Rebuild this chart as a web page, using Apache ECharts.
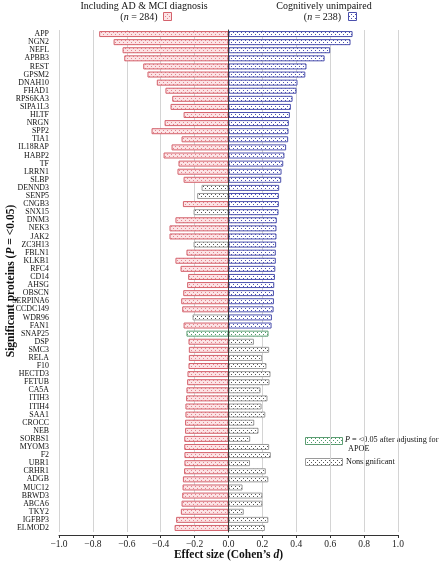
<!DOCTYPE html>
<html><head><meta charset="utf-8">
<script src="https://cdn.jsdelivr.net/npm/echarts@6/dist/echarts.min.js"></script>
<style>html,body{margin:0;padding:0;background:#fff}#c{width:440px;height:564px}</style>
</head><body><div id="c"></div>
<script>
const categories = ['APP','NGN2','NEFL','APBB3','REST','GPSM2','DNAH10','FHAD1','RPS6KA3','SIPA1L3','HLTF','NRGN','SPP2','TIA1','IL18RAP','HABP2','TF','LRRN1','SLBP','DENND3','SENP5','CNGB3','SNX15','DNM3','NEK3','JAK2','ZC3H13','FBLN1','KLKB1','RFC4','CD14','AHSG','OBSCN','SERPINA6','CCDC149','WDR96','FAN1','SNAP25','DSP','SMC3','RELA','F10','HECTD3','FETUB','CA5A','ITIH3','ITIH4','SAA1','CROCC','NEB','SORBS1','MYOM3','F2','UBR1','CRHR1','ADGB','MUC12','BRWD3','ABCA6','TKY2','IGFBP3','ELMOD2'];

// Including AD & MCI diagnosis (n = 284)
const leftValues = [-0.763,-0.678,-0.625,-0.615,-0.503,-0.478,-0.423,-0.372,-0.332,-0.342,-0.265,-0.377,-0.454,-0.277,-0.336,-0.383,-0.295,-0.301,-0.265,-0.159,-0.185,-0.269,-0.206,-0.313,-0.348,-0.348,-0.206,-0.248,-0.313,-0.283,-0.238,-0.244,-0.267,-0.279,-0.273,-0.212,-0.265,-0.248,-0.236,-0.234,-0.234,-0.236,-0.242,-0.244,-0.248,-0.250,-0.254,-0.254,-0.256,-0.256,-0.261,-0.261,-0.260,-0.260,-0.262,-0.269,-0.271,-0.273,-0.277,-0.281,-0.309,-0.318];

// Cognitively unimpaired (n = 238)
const rightValues = [0.732,0.720,0.600,0.567,0.460,0.453,0.407,0.401,0.378,0.368,0.362,0.356,0.354,0.352,0.340,0.330,0.323,0.313,0.311,0.299,0.297,0.297,0.295,0.285,0.283,0.283,0.281,0.279,0.279,0.276,0.274,0.270,0.268,0.268,0.266,0.256,0.254,0.236,0.150,0.240,0.199,0.224,0.248,0.242,0.189,0.230,0.195,0.217,0.152,0.177,0.128,0.240,0.250,0.127,0.220,0.235,0.083,0.200,0.200,0.090,0.235,0.215];

// significance status: 'sig' = P<0.05, 'apoe' = P<0.05 after adjusting for APOE, 'ns' = nonsignificant
const leftStatus = categories.map(c => (['DENND3','SENP5','SNX15','ZC3H13','WDR96'].includes(c) ? 'ns' : (c === 'SNAP25' ? 'apoe' : 'sig')));
const rightStatus = categories.map((c, i) => (i < 37 ? 'sig' : (c === 'SNAP25' ? 'apoe' : 'ns')));

const xTicks = [-1.0,-0.8,-0.6,-0.4,-0.2,0.0,0.2,0.4,0.6,0.8,1.0];

function pat(bg, dot) {
  const c = document.createElement('canvas');
  c.width = 4; c.height = 4;
  const g = c.getContext('2d');
  g.fillStyle = bg; g.fillRect(0, 0, 4, 4);
  g.fillStyle = dot; g.fillRect(1, 0, 1, 1); g.fillRect(3, 2, 1, 1);
  return { image: c, repeat: 'repeat' };
}
const styles = {
  red:  { color: pat('#fce4e6', '#e0858d'), borderColor: '#d4626c', borderWidth: 1 },
  blue: { color: pat('#ffffff', '#4b50ad'), borderColor: '#4b50ad', borderWidth: 1 },
  ns:   { color: pat('#ffffff', '#555555'), borderColor: '#9a9a9a', borderWidth: 1 },
  apoe: { color: pat('#ffffff', '#4f9a69'), borderColor: '#5c9e73', borderWidth: 1 }
};
function styleFor(status, side) {
  if (status === 'ns') return styles.ns;
  if (status === 'apoe') return styles.apoe;
  return side === 'left' ? styles.red : styles.blue;
}

const serif = '"Liberation Serif", "DejaVu Serif", serif';
const chart = echarts.init(document.getElementById('c'), null, { renderer: 'canvas' });
chart.setOption({
  animation: false,
  grid: { left: 59, right: 42, top: 30, bottom: 32, containLabel: false, outerBoundsMode: 'none' },
  xAxis: {
    type: 'value', min: xTicks[0], max: xTicks[xTicks.length - 1], interval: 0.2, offset: 3,
    axisLine: { show: true, lineStyle: { color: '#333', width: 1 } },
    axisTick: { show: true, length: 3, lineStyle: { color: '#333' } },
    splitLine: { show: true, lineStyle: { color: '#d4d4d4', width: 1 } },
    axisLabel: {
      fontFamily: serif, fontSize: 9.5, color: '#222', margin: 4,
      formatter: v => { const r = Math.round(v * 10) / 10; return (r < 0 ? '\u2212' : '') + Math.abs(r).toFixed(1); }
    },
    name: 'Effect size (Cohen\u2019s {i|d})', nameLocation: 'middle', nameGap: 14, nameMoveOverlap: false,
    nameTextStyle: { fontFamily: serif, fontSize: 11.5, fontWeight: 'bold', color: '#111',
      rich: { i: { fontFamily: serif, fontSize: 11.5, fontWeight: 'bold', fontStyle: 'italic', color: '#111' } } }
  },
  yAxis: {
    type: 'category', data: categories, inverse: true,
    axisLine: { show: true, lineStyle: { color: '#333', width: 1 } },
    axisTick: { show: true, alignWithLabel: true, length: 8, interval: 0, lineStyle: { color: '#333' } },
    axisLabel: { fontFamily: serif, fontSize: 7.9, color: '#111', margin: 10, interval: 0 },
    name: 'Significant proteins ({i|P} = <0.05)', nameLocation: 'middle', nameGap: 42, nameRotate: 90, nameMoveOverlap: false,
    nameTextStyle: { fontFamily: serif, fontSize: 11.5, fontWeight: 'bold', color: '#111',
      rich: { i: { fontFamily: serif, fontSize: 11.5, fontWeight: 'bold', fontStyle: 'italic', color: '#111' } } }
  },
  series: [
    {
      name: 'Including AD & MCI diagnosis', type: 'bar', barWidth: 6, barGap: '-100%',
      data: leftValues.map((v, i) => ({ value: v, itemStyle: styleFor(leftStatus[i], 'left') })),
      markLine: { silent: true, symbol: 'none', label: { show: false },
        lineStyle: { color: '#333', width: 1, type: 'solid' }, data: [{ xAxis: 0 }] }
    },
    {
      name: 'Cognitively unimpaired', type: 'bar', barWidth: 6, barGap: '-100%',
      data: rightValues.map((v, i) => ({ value: v, itemStyle: styleFor(rightStatus[i], 'right') }))
    }
  ],
  graphic: [
    { type: 'text', x: 144, y: 6, style: { text: 'Including AD & MCI diagnosis', fontFamily: serif, fontSize: 10, fill: '#111', align: 'center', verticalAlign: 'middle' } },
    { type: 'text', x: 139, y: 17, style: { text: '({i|n} = 284)', fontFamily: serif, fontSize: 10, fill: '#111', align: 'center', verticalAlign: 'middle',
      rich: { i: { fontFamily: serif, fontSize: 10, fontStyle: 'italic', fill: '#111' } } } },
    { type: 'rect', shape: { x: 163.5, y: 12.5, width: 8, height: 8 }, style: { fill: styles.red.color, stroke: styles.red.borderColor, lineWidth: 1 } },
    { type: 'text', x: 324, y: 6, style: { text: 'Cognitively unimpaired', fontFamily: serif, fontSize: 10, fill: '#111', align: 'center', verticalAlign: 'middle' } },
    { type: 'text', x: 322.5, y: 17, style: { text: '({i|n} = 238)', fontFamily: serif, fontSize: 10, fill: '#111', align: 'center', verticalAlign: 'middle',
      rich: { i: { fontFamily: serif, fontSize: 10, fontStyle: 'italic', fill: '#111' } } } },
    { type: 'rect', shape: { x: 348.5, y: 12.5, width: 8, height: 8 }, style: { fill: styles.blue.color, stroke: styles.blue.borderColor, lineWidth: 1 } },
    { type: 'rect', shape: { x: 305.5, y: 437.5, width: 37, height: 7 }, style: { fill: styles.apoe.color, stroke: styles.apoe.borderColor, lineWidth: 1 } },
    { type: 'text', x: 345, y: 440, style: { text: '{i|P} = <0.05 after adjusting for', fontFamily: serif, fontSize: 8.2, fill: '#111', align: 'left', verticalAlign: 'middle',
      rich: { i: { fontFamily: serif, fontSize: 8.2, fontStyle: 'italic', fill: '#111' } } } },
    { type: 'text', x: 348, y: 449, style: { text: 'APOE', fontFamily: serif, fontSize: 8.2, fill: '#111', align: 'left', verticalAlign: 'middle' } },
    { type: 'rect', shape: { x: 305.5, y: 458.5, width: 37, height: 7 }, style: { fill: styles.ns.color, stroke: styles.ns.borderColor, lineWidth: 1 } },
    { type: 'text', x: 346, y: 462, style: { text: 'Nonsignificant', fontFamily: serif, fontSize: 8.2, fill: '#111', align: 'left', verticalAlign: 'middle' } }
  ]
});
</script></body></html>
